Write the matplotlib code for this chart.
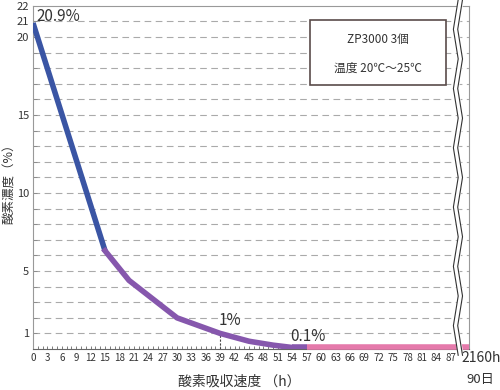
import numpy as np
import matplotlib
matplotlib.use("Agg")
import matplotlib.pyplot as plt
from matplotlib.patches import Rectangle

plt.rcParams['font.family'] = ['Noto Sans CJK JP', 'DejaVu Sans']

# データ
hours_main = [0, 15, 20, 30, 39, 45, 50, 54]
o2_main = [20.9, 6.3, 4.4, 2.0, 1.0, 0.5, 0.25, 0.1]
hours_tail = [54, 57]
o2_tail = [0.1, 0.1]
hours_flat = [57, 90.8]
o2_flat = [0.1, 0.1]

xtick_vals = list(range(0, 88, 3))
ytick_vals = [1, 5, 10, 15, 20, 21, 22]
end_label = "2160h"
end_label2 = "90日"
box_lines = ["ZP3000 3個", "温度 20℃〜25℃"]

blue = "#3a55a4"
purple = "#8657ad"
pink = "#e57aab"
txt = "#333333"

fig = plt.figure(figsize=(5, 3.9), dpi=100)
ax = fig.add_axes([0.066, 0.105, 0.872, 0.88])
ax.set_xlim(0, 90.8)
ax.set_ylim(0, 22)

# グリッド
for v in range(1, 22):
    ax.axhline(v, color="#aaaaaa", lw=0.8, ls=(0, (6, 4)), zorder=1)

# 線
ax.plot(hours_main[:2], o2_main[:2], color=blue, lw=4, solid_capstyle="butt", zorder=3)
ax.plot(hours_main[1:], o2_main[1:], color=purple, lw=4, solid_joinstyle="round", zorder=3)
ax.plot(hours_tail, o2_tail, color=purple, lw=4, solid_capstyle="butt", zorder=3)
ax.plot(hours_flat, o2_flat, color=pink, lw=4, solid_capstyle="butt", zorder=3, clip_on=False)

# 1% の補助線
ax.plot([39, 39], [0, 1], color="#444444", lw=0.8, ls=(0, (2, 1.5)), zorder=2)

# 注記
ax.text(0.8, 21.3, "20.9%", fontsize=11, color=txt, va="center", ha="left")
ax.text(41, 1.85, "1%", fontsize=11, color=txt, va="center", ha="center")
ax.text(57.3, 0.8, "0.1%", fontsize=11, color=txt, va="center", ha="center")

# 枠付きテキスト
ax.add_patch(Rectangle((0.635, 0.770), 0.312, 0.189, transform=ax.transAxes,
                       fill=True, facecolor="white", edgecolor="#5a4c4a", lw=1.2, zorder=4))
ax.text(0.791, 0.901, box_lines[0], transform=ax.transAxes, fontsize=8.5,
        color=txt, ha="center", va="center", zorder=5)
ax.text(0.791, 0.819, box_lines[1], transform=ax.transAxes, fontsize=8.5,
        color=txt, ha="center", va="center", zorder=5)

# 目盛
ax.set_xticks(xtick_vals)
ax.set_xticklabels([str(v) for v in xtick_vals])
ax.set_xticks(np.arange(0, 88, 1), minor=True)
ax.set_yticks(ytick_vals)
ax.set_yticks(np.arange(1, 22, 1), minor=True)
ax.tick_params(axis="x", which="both", direction="in", length=2, width=0.6,
               color="#666666", labelsize=7, labelcolor=txt, pad=3)
ax.tick_params(axis="y", which="both", direction="in", length=3, width=0.6,
               color="#888888", labelsize=8, labelcolor=txt, pad=3)

for s in ["left", "top", "right"]:
    ax.spines[s].set_color("#999999")
    ax.spines[s].set_linewidth(0.8)
ax.spines["bottom"].set_color("#666666")
ax.spines["bottom"].set_linewidth(0.8)

# 省略記号（波線）
bx = 88.5
ys = np.linspace(-0.4, 22.4, 13)
amp = 0.5
xs = bx + amp * np.array([(-1) ** i for i in range(len(ys))])
ax.fill_betweenx(ys, xs - 0.45, xs + 0.45, color="white", zorder=6, clip_on=False)
ax.plot(xs - 0.45, ys, color="#333333", lw=0.8, zorder=7, clip_on=False)
ax.plot(xs + 0.45, ys, color="#333333", lw=0.8, zorder=7, clip_on=False)

fig.text(0.962, 1 - 358 / 390, end_label, fontsize=10, color=txt, ha="center", va="center")
fig.text(0.96, 1 - 380 / 390, end_label2, fontsize=9.5, color=txt, ha="center", va="center")

ax.set_xlabel("酸素吸収速度 （h）", fontsize=10, color=txt)
ax.xaxis.set_label_coords(0.472, -0.075)
ax.set_ylabel("酸素濃度（%）", fontsize=9, color=txt)
ax.yaxis.set_label_coords(-0.038, 0.49)

fig.savefig("out.png", dpi=100, facecolor="white")
